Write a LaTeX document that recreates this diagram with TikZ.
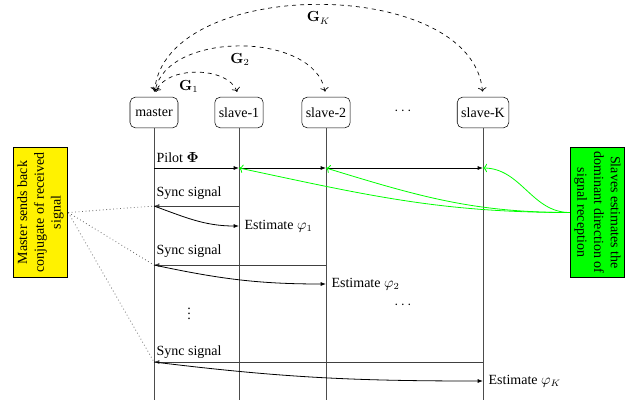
\documentclass[tikz,border=0pt]{standalone}
\usepackage[no-math]{fontspec}
\setmainfont{Liberation Serif}
\usetikzlibrary{arrows.meta}
\tikzset{
  ent/.style={draw, rounded corners=4pt, minimum width=36pt, minimum height=23pt, inner sep=3pt},
  life/.style={draw=black!70, line width=0.6pt},
  msg/.style={line width=0.6pt, -{Latex[length=4pt,width=3pt]}},
  syncl/.style={draw=black!75, line width=0.6pt, -{Latex[length=4pt,width=3pt]}},
  est/.style={line width=0.6pt, -{Latex[length=4pt,width=3pt]}},
  gain/.style={dashed, line width=0.5pt, {To[length=3pt]}-{To[length=3pt]}, shorten >=4pt, shorten <=4pt},
  note/.style={draw, line width=0.6pt, inner sep=2pt, align=center},
  gline/.style={draw=green, line width=0.6pt, -{To[length=3pt]}},
  dline/.style={draw=black!60, dotted, line width=0.6pt}
}
\begin{document}
\begin{tikzpicture}[x=0.75pt,y=-0.75pt, font=\fontsize{10.5}{12.6}\selectfont]
\useasboundingbox (0,0) rectangle (634,404);
% entities
\node[ent] (m) at (154,112.5) {master};
\node[ent] (s1) at (239,112.5) {slave-1};
\node[ent] (s2) at (326,112.5) {slave-2};
\node (dd) at (403,111) {$\cdots$};
\node[ent] (sK) at (483,112.5) {slave-K};
% lifelines
\coordinate (mb) at (154,400);
\coordinate (s1b) at (239,400);
\coordinate (s2b) at (326,400);
\coordinate (sKb) at (483,400);
\draw[life] (m) -- (mb);
\draw[life] (s1) -- (s1b);
\draw[life] (s2) -- (s2b);
\draw[life] (sK) -- (sKb);
% gains
\draw[gain] (s1.north) to[out=110,in=70] node[pos=0.57,below=1pt] (g1) {$\mathbf{G}_1$} (m.north);
\draw[gain] (s2.north) to[out=100,in=80] node[pos=0.5,below=1pt] (g2) {$\mathbf{G}_2$} (m.north);
\draw[gain] (sK.north) to[out=95,in=85,looseness=0.95] node[pos=0.5,below=1pt] (gk) {$\mathbf{G}_K$} (m.north);
% pilot
\coordinate (p0) at (154,168);
\coordinate (p1) at (239,168);
\coordinate (p2) at (326,168);
\coordinate (pK) at (483,168);
\node[anchor=west, inner sep=1pt] (pl) at (155,158) {Pilot $\mathbf{\Phi}$};
\draw[msg] (p0) -- (p1);
\draw[msg] (p1) -- (p2);
\draw[msg] (p2) -- (pK);
% sync 1
\coordinate (a1) at (239,206);
\coordinate (m1) at (154,206);
\coordinate (e1) at (239,226);
\node[anchor=west, inner sep=1pt] (sl1) at (155,193) {Sync signal};
\draw[syncl] (a1) -- (m1);
\draw[est] (m1) to[out=-20,in=180] (e1);
\node[anchor=west, inner sep=1pt] (el1) at (243,226) {Estimate $\varphi_1$};
% sync 2
\coordinate (a2) at (326,265);
\coordinate (m2) at (154,265);
\coordinate (e2) at (326,284);
\node[anchor=west, inner sep=1pt] (sl2) at (155,251) {Sync signal};
\draw[syncl] (a2) -- (m2);
\draw[est] (m2) to[out=-12,in=180] (e2);
\node[anchor=west, inner sep=1pt] (el2) at (330,284) {Estimate $\varphi_2$};
% dots
\node (vd) at (189,310) {$\vdots$};
\node (hd) at (403,305) {$\cdots$};
% sync K
\coordinate (aK) at (483,362);
\coordinate (mK) at (154,362);
\coordinate (eK) at (483,381);
\node[anchor=west, inner sep=1pt] (slK) at (155,352) {Sync signal};
\draw[syncl] (aK) -- (mK);
\draw[est] (mK) to[out=-7,in=180] (eK);
\node[anchor=west, inner sep=1pt] (elK) at (487,381) {Estimate $\varphi_K$};
% notes
\node[note, fill=yellow, rotate=90, minimum width=97pt, minimum height=41pt] (yb) at (40.5,212.5)
  {Master sends back\\conjugate of received\\signal};
\node[note, fill=green, rotate=-90, minimum width=97pt, minimum height=41pt] (gb) at (597.5,212.5)
  {Slaves estimates the\\dominant direction of\\signal reception};
\draw[dline] (yb.south) -- (m1);
\draw[dline] (yb.south) -- (m2);
\draw[dline] (yb.south) -- (mK);
\draw[gline] (gb.south) to[out=180,in=-12] (p1);
\draw[gline] (gb.south) to[out=180,in=-17] (p2);
\draw[gline] (gb.south) to[out=180,in=0] (pK);
\end{tikzpicture}
\end{document}
